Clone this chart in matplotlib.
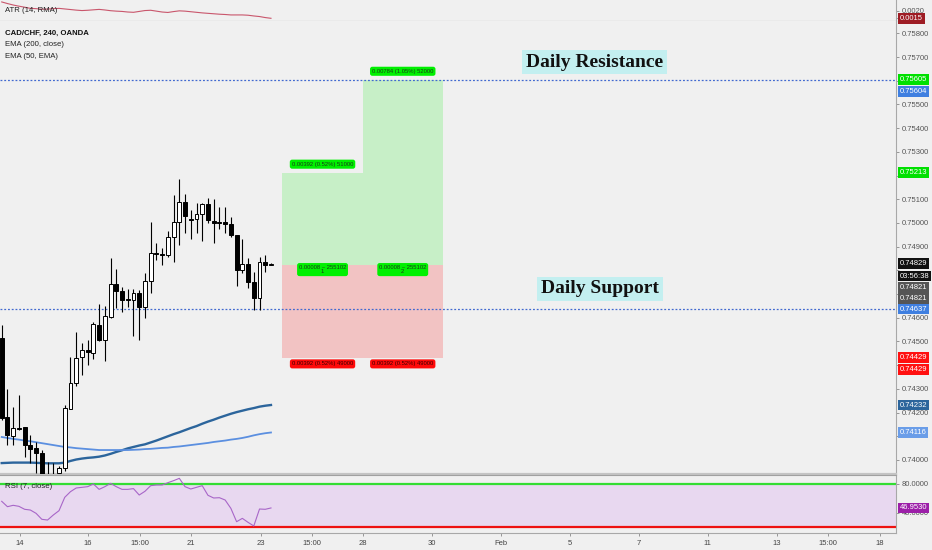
import matplotlib
matplotlib.use('Agg')
import matplotlib.pyplot as plt
import numpy as np

plt.rcParams['font.family'] = ['Liberation Sans', 'DejaVu Sans']

# ---------------- data (4H candles, CAD/CHF) ----------------
opens = [0.74515, 0.74181, 0.74101, 0.74135, 0.74139, 0.74063, 0.74051, 0.74030,
         0.73924, 0.73916, 0.73945, 0.73966, 0.74215, 0.74325, 0.74435, 0.74464,
         0.74451, 0.74570, 0.74506, 0.74603, 0.74743, 0.74713, 0.74679, 0.74675,
         0.74705, 0.74646, 0.74755, 0.74873, 0.74869, 0.74865, 0.74941, 0.75004,
         0.75089, 0.75017, 0.75017, 0.75038, 0.75080, 0.75008, 0.75004, 0.75004,
         0.74996, 0.74949, 0.74802, 0.74827, 0.74751, 0.74684, 0.74835, 0.74823]
highs = [0.74570, 0.74300, 0.74224, 0.74274, 0.74139, 0.74105, 0.74076, 0.74042,
         0.73992, 0.73987, 0.73975, 0.74232, 0.74435, 0.74540, 0.74494, 0.74506,
         0.74582, 0.74658, 0.74650, 0.74852, 0.74806, 0.74730, 0.74722, 0.74722,
         0.74717, 0.74789, 0.75004, 0.74916, 0.74895, 0.74966, 0.75118, 0.75186,
         0.75122, 0.75055, 0.75084, 0.75084, 0.75105, 0.75101, 0.75068, 0.75068,
         0.75025, 0.74949, 0.74933, 0.74852, 0.74793, 0.74857, 0.74865, 0.74831]
lows = [0.74169, 0.74063, 0.74063, 0.74127, 0.74013, 0.73987, 0.73945, 0.73907,
        0.73890, 0.73899, 0.73928, 0.73954, 0.74215, 0.74312, 0.74359, 0.74401,
        0.74426, 0.74500, 0.74418, 0.74599, 0.74641, 0.74624, 0.74646, 0.74523,
        0.74506, 0.74599, 0.74705, 0.74844, 0.74823, 0.74857, 0.74835, 0.74907,
        0.74958, 0.74933, 0.74958, 0.74924, 0.75000, 0.74916, 0.74975, 0.74958,
        0.74941, 0.74734, 0.74789, 0.74726, 0.74633, 0.74633, 0.74793, 0.74823]
closes = [0.74177, 0.74105, 0.74135, 0.74131, 0.74063, 0.74046, 0.74030, 0.73924,
          0.73916, 0.73920, 0.73966, 0.74219, 0.74325, 0.74430, 0.74464, 0.74456,
          0.74574, 0.74506, 0.74608, 0.74743, 0.74713, 0.74675, 0.74675, 0.74705,
          0.74646, 0.74755, 0.74873, 0.74869, 0.74865, 0.74941, 0.75004, 0.75089,
          0.75030, 0.75013, 0.75038, 0.75080, 0.75013, 0.75000, 0.75000, 0.74996,
          0.74949, 0.74802, 0.74827, 0.74751, 0.74684, 0.74835, 0.74823, 0.74829]

ema_fast = [0.73987, 0.73988, 0.73989, 0.73989, 0.73989, 0.73989, 0.73988, 0.73987,
            0.73986, 0.73986, 0.73986, 0.73989, 0.73996, 0.74002, 0.74006, 0.74009,
            0.74011, 0.74014, 0.74019, 0.74026, 0.74034, 0.74041, 0.74049, 0.74055,
            0.74061, 0.74066, 0.74074, 0.74082, 0.74091, 0.74100, 0.74109, 0.74117,
            0.74126, 0.74135, 0.74143, 0.74153, 0.74162, 0.74170, 0.74179, 0.74187,
            0.74195, 0.74202, 0.74208, 0.74214, 0.74219, 0.74225, 0.74229, 0.74232]
ema_slow = [0.74097, 0.74093, 0.74089, 0.74086, 0.74082, 0.74079, 0.74075, 0.74071,
            0.74067, 0.74063, 0.74059, 0.74055, 0.74053, 0.74050, 0.74048, 0.74046,
            0.74044, 0.74042, 0.74042, 0.74042, 0.74042, 0.74042, 0.74042, 0.74043,
            0.74044, 0.74046, 0.74047, 0.74049, 0.74051, 0.74052, 0.74055, 0.74057,
            0.74060, 0.74063, 0.74066, 0.74069, 0.74072, 0.74076, 0.74079, 0.74082,
            0.74086, 0.74089, 0.74093, 0.74098, 0.74104, 0.74109, 0.74113, 0.74116]

rsi = [56.1, 48.7, 50.6, 49.2, 45.1, 44.1, 39.5, 31.3, 30.3, 37.2, 43.2, 61.6,
       69.4, 74.5, 75.4, 76.3, 80.0, 72.6, 76.3, 80.9, 76.3, 72.6, 72.6, 73.6,
       64.8, 69.9, 77.7, 78.6, 78.6, 81.8, 84.6, 87.8, 76.3, 73.1, 75.4, 77.7,
       64.4, 60.7, 61.1, 57.9, 46.4, 28.0, 32.6, 27.1, 22.1, 45.5, 45.1, 46.953]

atr = [0.00262, 0.00251, 0.00241, 0.00233, 0.00226, 0.00218, 0.00216, 0.00212,
       0.00213, 0.00216, 0.00218, 0.00214, 0.00210, 0.00206, 0.00203, 0.00205,
       0.00208, 0.00211, 0.00207, 0.00202, 0.00199, 0.00197, 0.00193, 0.00191,
       0.00197, 0.00203, 0.00205, 0.00199, 0.00193, 0.00190, 0.00196, 0.00201,
       0.00199, 0.00195, 0.00191, 0.00187, 0.00184, 0.00181, 0.00178, 0.00176,
       0.00173, 0.00173, 0.00173, 0.00171, 0.00166, 0.00162, 0.00155, 0.00150]

# time axis (bar index positions of date labels)
tick_pos = [3.19, 15.06, 24.1, 33.0, 45.25, 54.2, 63.05, 75.1, 87.1, 99.2,
            111.2, 123.2, 135.3, 144.2, 153.3]
tick_labels = ['14', '16', '15:00', '21', '23', '15:00', '28', '30', 'Feb',
               '5', '7', '11', '13', '15:00', '18']

# long position tools
pos_start = [49, 63]
pos_end = [63, 77]
pos_entry = [0.74821, 0.74821]
pos_target = [0.75213, 0.75605]
pos_stop = [0.74429, 0.74429]
pos_top_text = ['0.00392 (0.52%) 51000', '0.00784 (1.05%) 52000']
pos_mid_text = ['0.00008 ~ 255102\n1', '0.00008 ~ 255102\n2']
pos_bot_text = ['0.00392 (0.52%) 49000', '0.00392 (0.52%) 49000']

# horizontal levels
hlevels = [0.75604, 0.74637]
level_names = ['Daily Resistance', 'Daily Support']
level_text_x = [103.5, 104.4]
level_text_y = [0.756793, 0.747215]

price_ticks = [0.740, 0.741, 0.742, 0.743, 0.744, 0.745, 0.746, 0.747, 0.748,
               0.749, 0.750, 0.751, 0.752, 0.753, 0.754, 0.755, 0.756, 0.757, 0.758]
hidden_price_ticks = [0.741, 0.744, 0.747, 0.748, 0.752, 0.756]   # covered by value labels

# ---------------- figure ----------------
W, H = 932, 550
BG = '#f0f0f0'
fig = plt.figure(figsize=(W / 100, H / 100), dpi=100, facecolor=BG)
right = 896 / W


def fy(px):
    return 1 - px / H


ax_atr = fig.add_axes([0, fy(20.5), right, 20.5 / H])
ax = fig.add_axes([0, fy(474), right, (474 - 21) / H], sharex=ax_atr)
ax_rsi = fig.add_axes([0, fy(533), right, (533 - 475) / H], sharex=ax_atr)

TICKC = '#555555'
FS = 5.5
for a in (ax_atr, ax, ax_rsi):
    a.set_facecolor(BG)
    a.spines['left'].set_visible(False)
    for s in ('right', 'top', 'bottom'):
        a.spines[s].set_color('#a8a8a8')
        a.spines[s].set_linewidth(0.8)
    a.yaxis.tick_right()
    a.tick_params(axis='y', direction='out', length=2.5, width=0.6, colors='#888888',
                  labelcolor=TICKC, labelsize=FS, pad=1.5)
    a.tick_params(axis='x', bottom=False, labelbottom=False)

ax.spines['top'].set_visible(False)
ax.spines['bottom'].set_linewidth(1.6)
ax.spines['bottom'].set_color('#c4c4c4')
ax_atr.spines['top'].set_visible(False)
ax_atr.spines['bottom'].set_color('#909090')
ax_rsi.spines['top'].set_color('#a0a0a0')

n = len(closes)
x = np.arange(n)
ax.set_xlim(-0.3, 156.1)

# ATR panel
ax_atr.plot(x, atr, color='#c9566c', lw=0.8)
ax_atr.set_ylim(0.001349, 0.002753)
ax_atr.set_yticks([0.0015, 0.0020])
ax_atr.set_yticklabels(['', '0.0020'])

# main panel
ax.set_ylim(0.739409, 0.758523)
ax.set_yticks(price_ticks)
ax.set_yticklabels(['' if any(abs(v - hv) < 1e-9 for hv in hidden_price_ticks)
                    else '%.5f' % v for v in price_ticks])

o = np.array(opens); c = np.array(closes); h = np.array(highs); l = np.array(lows)
ax.vlines(x, l, h, color='black', lw=0.8, zorder=3)
up = c >= o
ax.bar(x, np.abs(c - o), bottom=np.minimum(o, c), width=0.68,
       color=np.where(up, 'white', 'black'), edgecolor='black', lw=0.7, zorder=4)

ax.plot(x, ema_fast, color='#2c659c', lw=1.7, zorder=2)
ax.plot(x, ema_slow, color='#5b8fe0', lw=1.3, zorder=2)

for lv in hlevels:
    ax.axhline(lv, color='#4169d0', lw=0.9, ls=(0, (1.5, 1.5)), zorder=1)

PFS = 4.2
for s, e, en, tg, sp, t1, t2, t3 in zip(pos_start, pos_end, pos_entry, pos_target,
                                         pos_stop, pos_top_text, pos_mid_text, pos_bot_text):
    ax.fill_between([s, e], en, tg, color='#c7efc7', lw=0, zorder=0.5)
    ax.fill_between([s, e], sp, en, color='#f2c3c3', lw=0, zorder=0.5)
    cx = (s + e) / 2
    ax.annotate(t1, xy=(cx, tg), xytext=(0, 6), textcoords='offset points',
                ha='center', va='center', fontsize=PFS, color='#1a3a1a',
                bbox=dict(boxstyle='round,pad=0.35,rounding_size=0.4', fc='#00f000', ec='none'),
                zorder=6)
    ax.annotate(t2, xy=(cx, en), xytext=(0, -3), textcoords='offset points',
                ha='center', va='center', fontsize=PFS, color='#1a3a1a', linespacing=0.9,
                bbox=dict(boxstyle='round,pad=0.3,rounding_size=0.4', fc='#00f000', ec='none'),
                zorder=6)
    ax.annotate(t3, xy=(cx, sp), xytext=(0, -4), textcoords='offset points',
                ha='center', va='center', fontsize=PFS, color='#3a0000',
                bbox=dict(boxstyle='round,pad=0.35,rounding_size=0.4', fc='#ff0a0a', ec='none'),
                zorder=6)

for name, tx, ty in zip(level_names, level_text_x, level_text_y):
    ax.text(tx, ty, name, fontfamily='Liberation Serif', fontweight='bold', fontsize=14,
            color='#111111', ha='center', va='center', zorder=7,
            bbox=dict(boxstyle='square,pad=0.2', fc='#c3eff0', ec='none'))

# RSI panel
ax_rsi.axhspan(20, 80, color='#e8d8f0', lw=0, zorder=0)
ax_rsi.axhline(80, color='#33dd33', lw=1.6, zorder=1)
ax_rsi.axhline(20, color='#ee1111', lw=1.6, zorder=1)
ax_rsi.plot(x, rsi, color='#a866c8', lw=0.8, zorder=2)
ax_rsi.set_ylim(12.41, 92.41)
ax_rsi.set_yticks([40, 80])
ax_rsi.set_yticklabels(['40.0000', '80.0000'])
ax_rsi.tick_params(axis='x', bottom=True, labelbottom=True, direction='out', length=2,
                   width=0.6, colors='#888888', labelcolor='#444444', labelsize=FS, pad=3)
ax_rsi.set_xticks(tick_pos)
ax_rsi.set_xticklabels(tick_labels)


# right-side value labels
def rlabel(a, val, txt, bg, fg='white', dy_px=0.0):
    a.annotate(txt, xy=(1, val), xycoords=('axes fraction', 'data'),
               xytext=(2.6, -dy_px / 1.389), textcoords='offset points',
               ha='left', va='center', fontsize=FS, color=fg,
               bbox=dict(boxstyle='square,pad=0.25', fc=bg, ec='none'),
               annotation_clip=False, zorder=10)


rlabel(ax_atr, atr[-1], '0.0015', '#9e1c24', dy_px=0)
rlabel(ax, pos_target[1], '%.5f' % pos_target[1], '#00e000')
rlabel(ax, hlevels[0], '%.5f' % hlevels[0], '#3f7fe0', dy_px=11.8)
rlabel(ax, pos_target[0], '%.5f' % pos_target[0], '#00e000')
rlabel(ax, closes[-1], '%.5f' % closes[-1], '#111111')
rlabel(ax, closes[-1], '03:56:38', '#111111', dy_px=12.5)
rlabel(ax, pos_entry[0], '%.5f' % pos_entry[0], '#555555', dy_px=21.8)
rlabel(ax, pos_entry[1], '%.5f' % pos_entry[1], '#555555', dy_px=33.2)
rlabel(ax, hlevels[1], '%.5f' % hlevels[1], '#3f7fe0')
rlabel(ax, pos_stop[0], '%.5f' % pos_stop[0], '#ff1010', dy_px=-1.2)
rlabel(ax, pos_stop[1], '%.5f' % pos_stop[1], '#ff1010', dy_px=10.8)
rlabel(ax, ema_fast[-1], '%.5f' % ema_fast[-1], '#2c659c')
rlabel(ax, ema_slow[-1], '%.5f' % ema_slow[-1], '#6a9de8')
rlabel(ax_rsi, rsi[-1], '%.4f' % rsi[-1], '#9c1fa8')

# legends
LC = '#222222'
fig.text(5 / W, fy(11), 'ATR (14, RMA)', fontsize=5.6, color=LC, va='center')
fig.text(5 / W, fy(33), 'CAD/CHF, 240, OANDA', fontsize=5.6, color='#111111',
         fontweight='bold', va='center')
fig.text(5 / W, fy(44.5), 'EMA (200, close)', fontsize=5.6, color=LC, va='center')
fig.text(5 / W, fy(56), 'EMA (50, EMA)', fontsize=5.6, color=LC, va='center')
fig.text(5 / W, fy(486), 'RSI (7, close)', fontsize=5.6, color=LC, va='center')

fig.savefig('out.png', dpi=100, facecolor=BG)
